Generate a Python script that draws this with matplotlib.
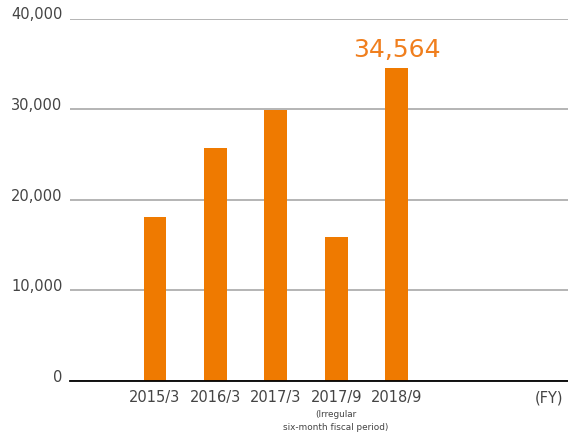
import matplotlib
matplotlib.use("Agg")
from matplotlib import pyplot as plt
from matplotlib import ticker as tkr

# values
periods = ['2015/3', '2016/3', '2017/3', '2017/9', '2018/9']
values = [18100, 25700, 29900, 15900, 34564]
yticks = [0, 10000, 20000, 30000, 40000]
note = '(Irregular\nsix-month fiscal period)'
highlight = '34,564'

bar_color = '#EF7A00'
text_color = '#444444'

plt.rcParams['font.family'] = ['DejaVu Sans']

fig = plt.figure(figsize=(5.68, 4.39), dpi=100)
ax = fig.add_axes([70/568, 57/439, 498/568, 362.5/439])

x = list(range(len(periods)))
ax.bar(x, values, width=0.38, color=bar_color, zorder=3)

ax.set_ylim(0, 40000)
ax.set_xlim(-1.407, 6.838)
ax.set_yticks(yticks)
ax.yaxis.set_major_formatter(tkr.FuncFormatter(lambda v, pos: '{:,.0f}'.format(v)))
ax.yaxis.grid(True, color='#a8a8a8', linewidth=1.2, zorder=0)
ax.set_axisbelow(True)

for s in ['top', 'right', 'left']:
    ax.spines[s].set_visible(False)
ax.spines['bottom'].set_color('black')
ax.spines['bottom'].set_linewidth(1.3)
ax.spines['bottom'].set_zorder(4)

ax.tick_params(axis='y', length=0, pad=5.5, labelsize=10.5, labelcolor=text_color)
ax.tick_params(axis='x', length=0, pad=6, labelsize=10.5, labelcolor=text_color)
for lab in ax.get_yticklabels():
    lab.set_va('baseline')
ax.set_xticks(x)
ax.set_xticklabels(periods)

# note under the irregular period
ax.annotate(note, xy=(3, 0), xycoords=('data', 'axes fraction'),
            xytext=(0, -20), textcoords='offset points',
            ha='center', va='top', fontsize=6.4, color=text_color,
            linespacing=1.55)
ax.annotate('(FY)', xy=(6.53, 0), xycoords=('data', 'axes fraction'),
            xytext=(0, -6), textcoords='offset points',
            ha='center', va='top', fontsize=10.5, color=text_color)

# highlighted latest value
ax.annotate(highlight, xy=(4, values[4]), xytext=(0, 5),
            textcoords='offset points', ha='center', va='bottom',
            fontsize=18, color='#F07F1E')

fig.savefig('out.png', dpi=100)
